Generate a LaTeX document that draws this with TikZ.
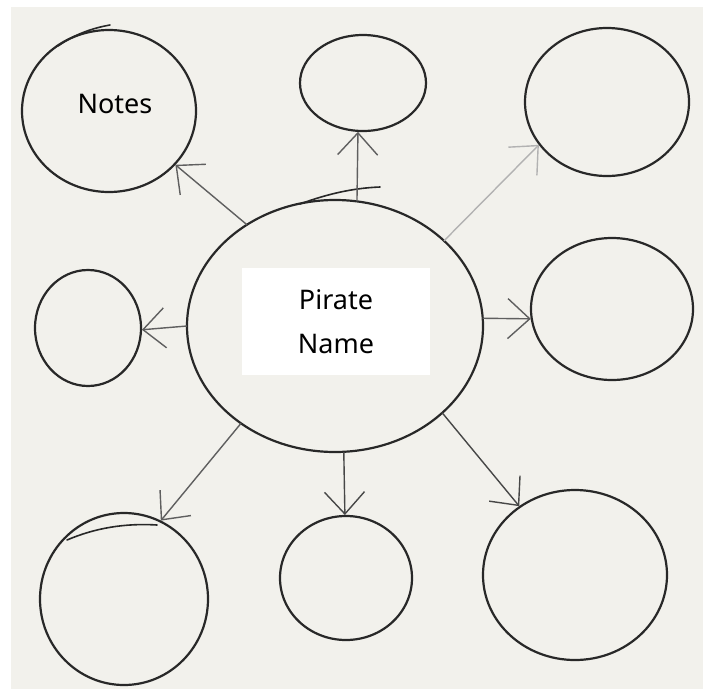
\documentclass[tikz,border=0pt]{standalone}
\usepackage{fontspec}
\setmainfont{Noto Sans}
\usetikzlibrary{shapes.geometric,arrows.meta}
\definecolor{paper}{RGB}{242,241,236}
\definecolor{ink}{RGB}{40,40,40}
\definecolor{arrowgrey}{RGB}{95,95,95}
\begin{document}
\begin{tikzpicture}[x=1pt,y=-1pt,
  bub/.style={ellipse,draw=ink,line width=2.2pt,inner sep=0pt,outer sep=0pt},
  arr/.style={draw=arrowgrey,line width=1.4pt,shorten >=1pt,-{Straight Barb[length=22pt,width=40pt]}},
  lbl/.style={font=\fontsize{27}{44}\selectfont,align=center,text=black},
  stroke/.style={draw=ink,line width=1.6pt,line cap=round}]
\useasboundingbox (0,0) rectangle (710,694);
\fill[white] (0,0) rectangle (710,694);
\fill[paper] (11,7) rectangle (703,689);
% bubbles
\node[bub,minimum width=174,minimum height=162] (notes) at (109,111) {};
\node[bub,minimum width=126,minimum height=96] (top) at (363,83) {};
\node[bub,minimum width=164,minimum height=148] (tr) at (607,102) {};
\node[bub,minimum width=106,minimum height=116] (left) at (88,328) {};
\node[bub,minimum width=296,minimum height=252] (c) at (335,326) {};
\node[bub,minimum width=162,minimum height=142] (right) at (612,309) {};
\node[bub,minimum width=168,minimum height=172] (bl) at (124,599) {};
\node[bub,minimum width=132,minimum height=124] (bc) at (346,578) {};
\node[bub,minimum width=184,minimum height=170] (br) at (575,575) {};
% extra sketch strokes
\draw[stroke] (58,46) .. controls (75,34) and (93,28) .. (110,25);
\draw[stroke] (300,204) .. controls (330,193) and (355,188) .. (380,187);
\draw[stroke] (67,540) .. controls (95,528) and (125,523) .. (157,525);
% labels
\node[fill=white,minimum width=188,minimum height=107,inner sep=0pt] (box) at (336,321.5) {};
\node[lbl] (name) at (box) {Pirate\\Name};
\node[lbl] (notestext) at (115,104) {Notes};
% arrows
\draw[arr] (c.131) -- (notes.-39);
\draw[arr] (c.80) -- (top.-96);
\draw[arr,draw=black!30] (c.38) -- (tr.-148);
\draw[arr] (c.180) -- (left.-2);
\draw[arr] (c.3) -- (right.-173);
\draw[arr] (c.-134) -- (bl.65);
\draw[arr,draw=black!72] (c.-86) -- (bc.91);
\draw[arr,draw=black!72] (c.-39) -- (br.129);
\end{tikzpicture}
\end{document}
